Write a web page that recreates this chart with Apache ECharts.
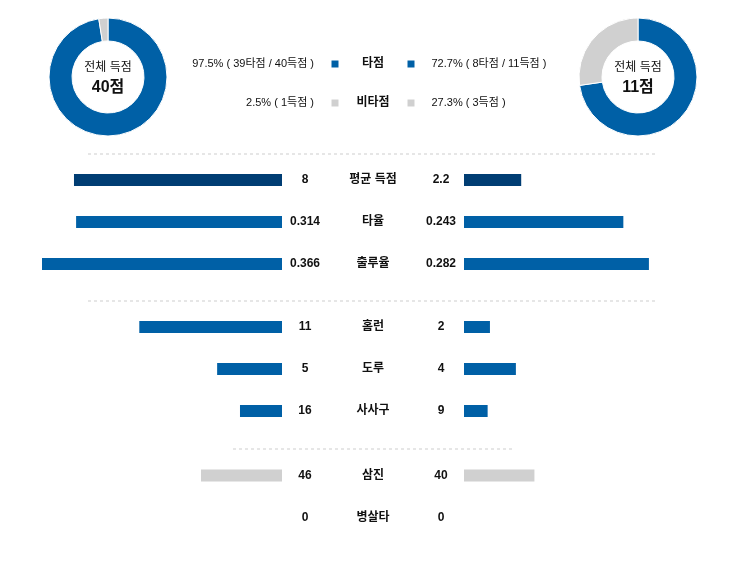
<!DOCTYPE html>
<html>
<head>
<meta charset="utf-8">
<script src="https://cdn.jsdelivr.net/npm/echarts@6.0.0/dist/echarts.min.js"></script>
<style>
    html, body { margin: 0; padding: 0; background: #fff; }
    #main { width: 746px; height: 569px; }
</style>
</head>
<body>
<div id="main"></div>
<script type="text/javascript">
    // 항목 / 기록
    var labels = ['평균 득점', '타율', '출루율', '홈런', '도루', '사사구', '삼진', '병살타'];
    var homeValues = [8, 0.314, 0.366, 11, 5, 16, 46, 0];
    var awayValues = [2.2, 0.243, 0.282, 2, 4, 9, 40, 0];
    // 행별 막대 기준 최대값
    var rowMax = [9.23, 0.366, 0.366, 18.5, 18.5, 91.4, 136.3, 10];
    // 묶음 (구분선 기준)
    var groupRows = [[0, 1, 2], [3, 4, 5], [6, 7]];

    // 득점 구성
    var pieNames = ['타점', '비타점'];
    var homePie = [39, 1];
    var awayPie = [8, 3];
    var homeTotal = 40;
    var awayTotal = 11;

    var BLUE = '#0060a6', NAVY = '#003d73', GREY = '#d0d0d0';
    var FONT = 'Arial, "Liberation Sans", "Noto Sans CJK KR", sans-serif';
    var MID = 373;

    function rowColor(i, g) {
        if (i === 0) return NAVY;
        return g === 2 ? GREY : BLUE;
    }

    var grid = [], xAxis = [], yAxis = [], series = [];
    var groupTop = [159, 306, 454.5];
    var rowH = 42;

    groupRows.forEach(function (rows, g) {
        var h = rows.length * rowH;
        grid.push({ left: 42, right: 746 - 282, top: groupTop[g], height: h, containLabel: false, outerBoundsMode: 'none' });
        grid.push({ left: 464, right: 42, top: groupTop[g], height: h, containLabel: false, outerBoundsMode: 'none' });
        xAxis.push({ gridIndex: 2 * g, type: 'value', min: 0, max: 100, inverse: true, show: false });
        xAxis.push({ gridIndex: 2 * g + 1, type: 'value', min: 0, max: 100, show: false });

        var base = {
            type: 'category', inverse: true,
            axisLine: { show: false }, axisTick: { show: false }, splitLine: { show: false }
        };
        var lbl = { interval: 0, align: 'center', fontWeight: 'bold', fontSize: 12, color: '#111', fontFamily: FONT };
        // 가운데 항목명
        yAxis.push(Object.assign({}, base, {
            gridIndex: 2 * g, position: 'right',
            data: rows.map(function (i) { return labels[i]; }),
            axisLabel: Object.assign({}, lbl, { margin: MID - 282 })
        }));
        // 왼쪽 값
        yAxis.push(Object.assign({}, base, {
            gridIndex: 2 * g, position: 'right',
            data: rows.map(function (i) { return String(homeValues[i]); }),
            axisLabel: Object.assign({}, lbl, { margin: 23 })
        }));
        // 오른쪽 값
        yAxis.push(Object.assign({}, base, {
            gridIndex: 2 * g + 1, position: 'left',
            data: rows.map(function (i) { return String(awayValues[i]); }),
            axisLabel: Object.assign({}, lbl, { margin: 23 })
        }));

        series.push({
            type: 'bar', xAxisIndex: 2 * g, yAxisIndex: 3 * g, barWidth: 12, silent: true,
            data: rows.map(function (i) {
                return { value: homeValues[i] / rowMax[i] * 100, itemStyle: { color: rowColor(i, g) } };
            })
        });
        series.push({
            type: 'bar', xAxisIndex: 2 * g + 1, yAxisIndex: 3 * g + 2, barWidth: 12, silent: true,
            data: rows.map(function (i) {
                return { value: awayValues[i] / rowMax[i] * 100, itemStyle: { color: rowColor(i, g) } };
            })
        });
    });

    // 도넛
    function donut(center, vals) {
        return {
            type: 'pie', center: center, radius: [36, 59], startAngle: 90, clockwise: true,
            silent: true, label: { show: false }, labelLine: { show: false },
            itemStyle: { borderColor: '#fff', borderWidth: 1 },
            data: vals.map(function (v, k) {
                return { name: pieNames[k], value: v, itemStyle: { color: k === 0 ? BLUE : GREY } };
            })
        };
    }
    series.push(donut([108, 77], homePie));
    series.push(donut([638, 77], awayPie));

    function pct(v, t) { return (v / t * 100).toFixed(1); }
    var homeText = [
        pct(homePie[0], homeTotal) + '% ( ' + homePie[0] + '타점 / ' + homeTotal + '득점 )',
        pct(homePie[1], homeTotal) + '% ( ' + homePie[1] + '득점 )'
    ];
    var awayText = [
        pct(awayPie[0], awayTotal) + '% ( ' + awayPie[0] + '타점 / ' + awayTotal + '득점 )',
        pct(awayPie[1], awayTotal) + '% ( ' + awayPie[1] + '득점 )'
    ];

    var graphic = [];
    var legendY = [64, 103];
    pieNames.forEach(function (name, k) {
        var c = k === 0 ? BLUE : GREY;
        graphic.push({ type: 'text', x: 314, y: legendY[k], style: { text: homeText[k], fill: '#111', font: '11px ' + FONT, textAlign: 'right', textVerticalAlign: 'middle' } });
        graphic.push({ type: 'rect', shape: { x: 331.5, y: legendY[k] - 3.5, width: 7, height: 7 }, style: { fill: c } });
        graphic.push({ type: 'text', x: MID, y: legendY[k], style: { text: name, fill: '#111', font: 'bold 12px ' + FONT, textAlign: 'center', textVerticalAlign: 'middle' } });
        graphic.push({ type: 'rect', shape: { x: 407.5, y: legendY[k] - 3.5, width: 7, height: 7 }, style: { fill: c } });
        graphic.push({ type: 'text', x: 431.5, y: legendY[k], style: { text: awayText[k], fill: '#111', font: '11px ' + FONT, textAlign: 'left', textVerticalAlign: 'middle' } });
    });

    // 도넛 가운데 글자
    [[108, homeTotal], [638, awayTotal]].forEach(function (d) {
        graphic.push({ type: 'text', x: d[0], y: 68, style: { text: '전체 득점', fill: '#111', font: '12px ' + FONT, textAlign: 'center', textVerticalAlign: 'middle' } });
        graphic.push({ type: 'text', x: d[0], y: 88, style: { text: d[1] + '점', fill: '#111', font: 'bold 16px ' + FONT, textAlign: 'center', textVerticalAlign: 'middle' } });
    });

    // 구분선
    [[88, 655, 154], [88, 655, 301], [233, 512, 449]].forEach(function (l) {
        graphic.push({
            type: 'line', shape: { x1: l[0], y1: l[2], x2: l[1], y2: l[2] },
            style: { stroke: '#e6e6e6', lineWidth: 2, lineDash: [3, 3] }
        });
    });

    var myChart = echarts.init(document.getElementById('main'));
    myChart.setOption({
        animation: false,
        grid: grid,
        xAxis: xAxis,
        yAxis: yAxis,
        series: series,
        graphic: graphic
    });
</script>
</body>
</html>
